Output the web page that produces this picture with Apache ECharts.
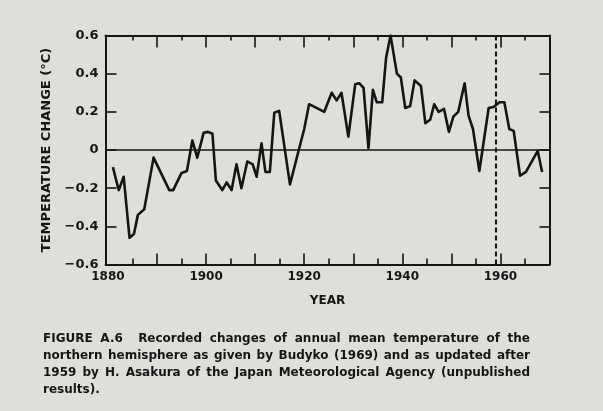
<!DOCTYPE html>
<html>
<head>
<meta charset="utf-8">
<script src="https://cdn.jsdelivr.net/npm/echarts@6/dist/echarts.min.js"></script>
<style>
html,body{margin:0;padding:0;background:#dedfda;}
#chart{width:603px;height:411px;}
</style>
</head>
<body>
<div id="chart"></div>
<script>
// ---- data ----
const years = [
  1881.0, 1882.2, 1883.2, 1884.4, 1885.3, 1886.1, 1887.4, 1889.3, 1892.5, 1893.3,
  1895.0, 1896.1, 1897.2, 1898.2, 1899.5, 1900.4, 1901.3, 1902.0, 1903.3, 1904.2,
  1905.2, 1906.2, 1907.2, 1908.4, 1909.5, 1910.3, 1911.3, 1912.1, 1913.0, 1913.9,
  1914.9, 1917.1, 1920.0, 1921.0, 1924.1, 1925.6, 1926.6, 1927.6, 1929.0, 1930.4,
  1931.2, 1932.1, 1933.1, 1934.0, 1934.8, 1935.9, 1936.7, 1937.6, 1938.9, 1939.7,
  1940.6, 1941.6, 1942.5, 1943.8, 1944.7, 1945.7, 1946.5, 1947.4, 1948.5, 1949.5,
  1950.4, 1951.4, 1952.7, 1953.5, 1954.4, 1955.7, 1957.6, 1958.6, 1959.8, 1960.8,
  1961.8, 1962.7, 1964.0, 1965.2, 1967.6, 1968.5
];
const tempChange = [
  -0.09, -0.21, -0.14, -0.46, -0.44, -0.34, -0.31, -0.04, -0.21, -0.21,
  -0.12, -0.11, 0.05, -0.04, 0.09, 0.095, 0.085, -0.16, -0.21, -0.17,
  -0.21, -0.075, -0.20, -0.06, -0.075, -0.14, 0.035, -0.115, -0.115, 0.195,
  0.205, -0.18, 0.11, 0.24, 0.20, 0.30, 0.26, 0.30, 0.07, 0.345,
  0.35, 0.325, 0.01, 0.315, 0.25, 0.25, 0.485, 0.60, 0.40, 0.38,
  0.22, 0.23, 0.365, 0.335, 0.14, 0.16, 0.24, 0.20, 0.215, 0.095,
  0.175, 0.20, 0.35, 0.18, 0.11, -0.11, 0.22, 0.225, 0.25, 0.25,
  0.11, 0.10, -0.135, -0.115, -0.005, -0.115
];
const xLabelYears = [1880, 1900, 1920, 1940, 1960];
const majorTickYears = [1890, 1900, 1910, 1920, 1930, 1940, 1950, 1960];
const minorTickYears = [1885, 1895, 1905, 1915, 1925, 1935, 1945, 1955, 1965];
const updateYear = 1959;
const yAxisTitle = 'TEMPERATURE CHANGE (°C)';
const xAxisTitle = 'YEAR';
const captionLines = [
  'FIGURE A.6  Recorded changes of annual mean temperature of the',
  'northern hemisphere as given by Budyko (1969) and as updated after',
  '1959 by H. Asakura of the Japan Meteorological Agency (unpublished',
  'results).'
];

// ---- layout / style ----
const INK = '#151515';
const X_MIN = 1879.5, X_MAX = 1970;
const Y_MIN = -0.6, Y_MAX = 0.6;
const FONT_FAMILY = '"DejaVu Sans", sans-serif';

function xAxisDef(position, ticks, tickLen, showLine, labels) {
  return {
    type: 'value', position: position, min: X_MIN, max: X_MAX,
    axisLine: {show: showLine, onZero: false, lineStyle: {color: INK, width: 2}},
    axisTick: {show: true, inside: true, length: tickLen, customValues: ticks,
               lineStyle: {color: INK, width: 1.6}},
    axisLabel: labels ? {show: true, customValues: labels, margin: 6,
               fontFamily: FONT_FAMILY, fontWeight: 'bold', fontSize: 12, color: INK,
               formatter: v => String(v)} : {show: false},
    splitLine: {show: false}
  };
}

const xAxes = [
  Object.assign(xAxisDef('bottom', majorTickYears, 11, true, xLabelYears), {
    name: xAxisTitle, nameLocation: 'middle', nameGap: 30,
    nameTextStyle: {fontFamily: FONT_FAMILY, fontWeight: 'bold', fontSize: 12, color: INK}
  }),
  xAxisDef('bottom', minorTickYears, 6, false, null),
  xAxisDef('top', majorTickYears, 12, true, null),
  xAxisDef('top', minorTickYears, 5, false, null)
];

const yAxes = [
  {
    type: 'value', position: 'left', min: Y_MIN, max: Y_MAX, interval: 0.2,
    name: yAxisTitle, nameLocation: 'middle', nameGap: 52, nameRotate: 90,
    nameTextStyle: {fontFamily: FONT_FAMILY, fontWeight: 'bold', fontSize: 13, color: INK},
    axisLine: {show: true, onZero: false, lineStyle: {color: INK, width: 2}},
    axisTick: {show: true, inside: true, length: 11, lineStyle: {color: INK, width: 1.6}},
    axisLabel: {show: true, margin: 7, fontFamily: FONT_FAMILY, fontWeight: 'bold',
      fontSize: 13, color: INK,
      formatter: v => {
        const r = Math.round(v * 10) / 10;
        if (r === 0) return '0';
        return (r < 0 ? '\u2212' : '') + Math.abs(r).toFixed(1);
      }},
    splitLine: {show: false}
  },
  {
    type: 'value', position: 'right', min: Y_MIN, max: Y_MAX, interval: 0.2,
    axisLine: {show: true, onZero: false, lineStyle: {color: INK, width: 2}},
    axisTick: {show: true, inside: true, length: 10, lineStyle: {color: INK, width: 1.6}},
    axisLabel: {show: false},
    splitLine: {show: false}
  }
];

// ---- justified caption built as real text ----
const CAP_FONT = 'bold 12px "DejaVu Sans"';
const CAP_LEFT = 43, CAP_RIGHT = 530, CAP_TOP = 338.5, CAP_STEP = 17;
const measureCtx = document.createElement('canvas').getContext('2d');
measureCtx.font = CAP_FONT;
const captionGraphics = [];
captionLines.forEach((line, li) => {
  const tokens = line.split(' ');
  const widths = tokens.map(t => t ? measureCtx.measureText(t).width : 0);
  const spaceW = measureCtx.measureText(' ').width;
  const total = widths.reduce((a, b) => a + b, 0);
  const gaps = tokens.length - 1;
  const justify = li < captionLines.length - 1 && gaps > 0;
  const gapW = justify ? (CAP_RIGHT - CAP_LEFT - total) / gaps : spaceW;
  let x = CAP_LEFT;
  tokens.forEach((t, ti) => {
    if (t) {
      captionGraphics.push({
        type: 'text', silent: true,
        style: {text: t, x: x, y: CAP_TOP + li * CAP_STEP, font: CAP_FONT,
                fill: INK, verticalAlign: 'middle', align: 'left'}
      });
    }
    x += widths[ti] + gapW;
  });
});

const chart = echarts.init(document.getElementById('chart'), null, {renderer: 'canvas'});
chart.setOption({
  animation: false,
  backgroundColor: '#dedfda',
  grid: {left: 105.5, right: 53.5, top: 35.5, bottom: 146.5, containLabel: false},
  xAxis: xAxes,
  yAxis: yAxes,
  series: [{
    type: 'line',
    xAxisIndex: 0, yAxisIndex: 0,
    data: years.map((yr, i) => [yr, tempChange[i]]),
    showSymbol: false, symbol: 'none',
    lineStyle: {color: INK, width: 2.6, join: 'round'},
    z: 5,
    markLine: {
      silent: true, symbol: 'none', animation: false,
      label: {show: false},
      data: [
        {yAxis: 0, lineStyle: {color: INK, width: 1.6, type: 'solid'}},
        {xAxis: updateYear, lineStyle: {color: INK, width: 2, type: [5, 3]}}
      ]
    }
  }],
  graphic: captionGraphics
});
</script>
</body>
</html>
